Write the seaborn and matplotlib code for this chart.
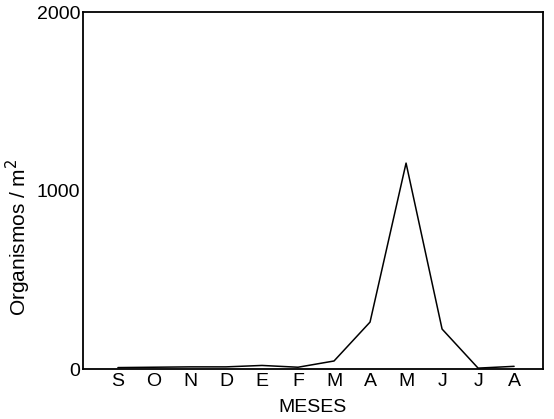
import numpy as np
import pandas as pd
import seaborn as sns
import matplotlib.pyplot as plt

meses = ["S", "O", "N", "D", "E", "F", "M", "A", "M", "J", "J", "A"]
organismos = [8, 10, 12, 12, 20, 10, 45, 263, 1154, 224, 5, 15]

sns.set_theme(style="white")
plt.rcParams['font.family'] = ['Liberation Sans', 'DejaVu Sans']
plt.rcParams['text.color'] = 'black'
plt.rcParams['axes.labelcolor'] = 'black'
plt.rcParams['xtick.color'] = 'black'
plt.rcParams['ytick.color'] = 'black'

df = pd.DataFrame({"idx": np.arange(len(meses)), "val": organismos})

fig = plt.figure(figsize=(5.54, 4.19), dpi=100)
ax = fig.add_axes([0.1498, 0.1193, 0.8302, 0.8517])
sns.lineplot(data=df, x="idx", y="val", color="black", linewidth=1.1, ax=ax)

ax.set_xlim(-0.97, 11.8)
ax.set_ylim(0, 2000)
ax.set_xticks(np.arange(len(meses)))
ax.set_xticklabels(meses, fontsize=14)
ax.set_yticks([0, 1000, 2000])
ax.set_yticklabels(["0", "1000", "2000"], fontsize=14)
ax.tick_params(axis="x", length=0, pad=3)
ax.tick_params(axis="y", length=3, direction="in", pad=2)
for s in ax.spines.values():
    s.set_color("black")
    s.set_linewidth(1.3)

ax.set_xlabel("MESES", fontsize=14, labelpad=6)
ax.set_ylabel("Organismos / m$^2$", fontsize=15)
ax.yaxis.set_label_coords(-0.108, 0.37)

fig.savefig("out.png", dpi=100)
